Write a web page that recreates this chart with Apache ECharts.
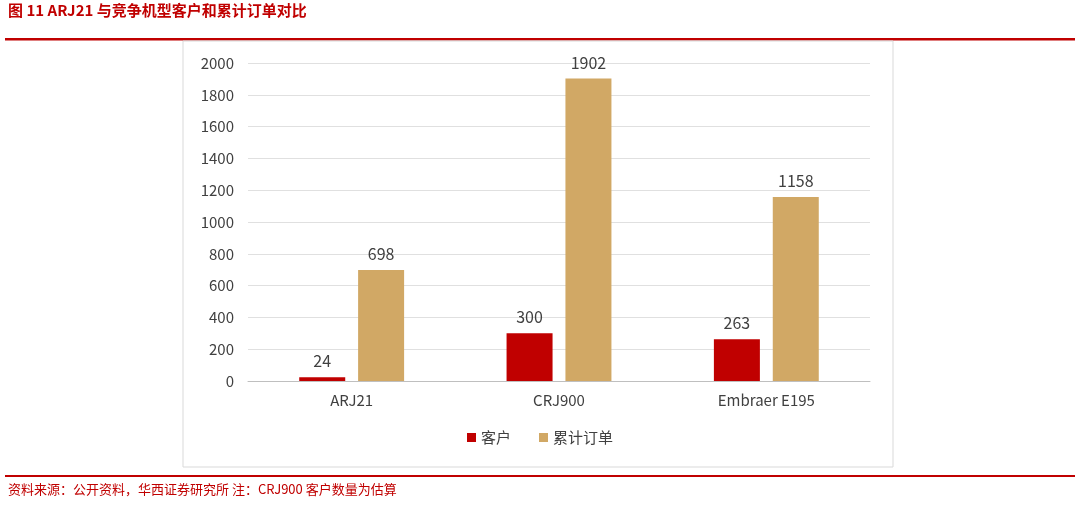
<!DOCTYPE html>
<html><head><meta charset="utf-8">
<script src="https://cdn.jsdelivr.net/npm/echarts@6/dist/echarts.min.js"></script>
<style>body{margin:0;background:#fff}#c{width:1080px;height:506px}</style>
</head><body><div id="c"></div>
<script>
const categories=['ARJ21','CRJ900','Embraer E195'];
const customers=[24,300,263];
const orders=[698,1902,1158];
const yTicks=[0,200,400,600,800,1000,1200,1400,1600,1800,2000];
const chart=echarts.init(document.getElementById('c'));
const font='"Noto Sans CJK SC","DejaVu Sans",sans-serif';
chart.setOption({
  animation:false,
  graphic:[
    {type:'text',left:8,top:3,style:{text:'图 11 ARJ21 与竞争机型客户和累计订单对比',fill:'#C00000',font:'bold 15px '+font}},
    {type:'rect',shape:{x:5,y:38,width:1070,height:2.5},style:{fill:'#C00000'}},
    {type:'rect',shape:{x:183,y:41,width:710,height:426},style:{fill:'none',stroke:'#d9d9d9',lineWidth:1}},
    {type:'rect',shape:{x:5,y:475,width:1070,height:2},style:{fill:'#C00000'}},
    {type:'text',left:8,top:483,style:{text:'资料来源：公开资料，华西证券研究所 注：CRJ900 客户数量为估算',fill:'#C00000',font:'13px '+font}}
  ],
  grid:{left:248,right:210,top:63,bottom:125},
  legend:{bottom:56,left:'center',itemWidth:9,itemHeight:9,itemGap:28,icon:'rect',textStyle:{fontSize:15,color:'#404040',fontFamily:font},data:['客户','累计订单']},
  xAxis:{type:'category',data:categories,axisTick:{show:false},axisLine:{lineStyle:{color:'#bfbfbf'}},axisLabel:{fontSize:15,color:'#404040',margin:12,fontFamily:font}},
  yAxis:{type:'value',min:0,max:2000,interval:200,axisLine:{show:false},axisTick:{show:false},splitLine:{lineStyle:{color:'#e0e0e0'}},axisLabel:{fontSize:15,color:'#404040',margin:14,fontFamily:font,formatter:v=>String(v)}},
  series:[
    {name:'客户',type:'bar',data:customers,barWidth:46,barGap:'28%',itemStyle:{color:'#C00000'},label:{show:true,position:'top',fontSize:16,color:'#404040',distance:8,fontFamily:font}},
    {name:'累计订单',type:'bar',data:orders,barWidth:46,itemStyle:{color:'#D1A865'},label:{show:true,position:'top',fontSize:16,color:'#404040',distance:8,fontFamily:font}}
  ]
});
</script></body></html>
